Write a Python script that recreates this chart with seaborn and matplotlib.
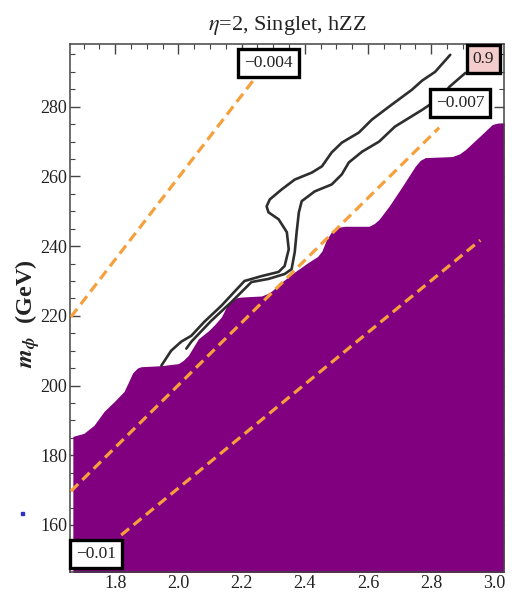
import numpy as np
import pandas as pd
import matplotlib
matplotlib.use("Agg")
import matplotlib.pyplot as plt
import seaborn as sns
from matplotlib.ticker import MultipleLocator
from matplotlib.patches import Rectangle

# ---------------- data ----------------
# upper edge of the purple excluded region
region_x = [1.666, 1.701, 1.733, 1.765, 1.797, 1.828, 1.842, 1.855, 1.870, 1.882,
            1.946, 2.000, 2.015, 2.031, 2.047, 2.063, 2.095, 2.115, 2.136, 2.152,
            2.168, 2.185, 2.200, 2.263, 2.280, 2.295, 2.327, 2.368, 2.412, 2.440,
            2.454, 2.468, 2.485, 2.505, 2.527, 2.603, 2.620, 2.635, 2.666, 2.708,
            2.749, 2.765, 2.781, 2.866, 2.890, 2.908, 2.952, 2.993, 3.010, 3.030]
region_y = [185.4, 186.3, 188.6, 192.6, 195.4, 198.3, 201.0, 203.6, 205.0, 205.4,
            205.7, 206.3, 207.2, 208.6, 211.0, 213.4, 215.7, 217.5, 219.7, 222.6,
            224.3, 225.2, 225.4, 225.7, 226.3, 227.1, 229.7, 232.6, 235.4, 237.0,
            238.6, 241.8, 244.2, 245.4, 245.7, 245.7, 246.5, 247.7, 251.4, 257.1,
            262.9, 264.6, 265.4, 265.7, 266.5, 267.7, 271.4, 274.9, 275.3, 275.4]

# dashed orange contours
c004_x = [1.660, 2.238]
c004_y = [219.7, 287.7]
c007_x = [1.660, 2.825]
c007_y = [169.7, 274.0]
c010_x = [1.819, 2.955]
c010_y = [157.1, 241.7]

# black 0.9 contour (two branches)
outer_x = [1.946, 1.977, 2.009, 2.041, 2.082, 2.136, 2.177, 2.209, 2.263, 2.317,
           2.336, 2.349, 2.343, 2.317, 2.285, 2.279, 2.289, 2.327, 2.368, 2.422,
           2.454, 2.485, 2.517, 2.571, 2.612, 2.666, 2.739, 2.771, 2.812, 2.860]
outer_y = [205.7, 210.0, 212.6, 214.3, 218.3, 222.9, 226.9, 230.0, 231.4, 232.6,
           234.3, 239.1, 244.0, 247.7, 249.7, 251.4, 253.4, 256.3, 259.1, 261.1,
           262.9, 266.9, 269.7, 272.6, 276.3, 280.0, 284.9, 287.5, 290.0, 294.9]
inner_x = [2.025, 2.041, 2.104, 2.168, 2.209, 2.231, 2.285, 2.336, 2.358, 2.368,
           2.374, 2.381, 2.390, 2.431, 2.485, 2.517, 2.539, 2.581, 2.635, 2.685,
           2.771, 2.835, 2.857, 2.908]
inner_y = [210.6, 212.6, 218.6, 224.0, 227.7, 229.7, 230.6, 232.0, 233.4, 238.3,
           244.0, 249.7, 252.9, 255.7, 257.7, 260.6, 264.0, 267.1, 270.0, 274.3,
           279.1, 283.0, 285.7, 289.7]

# contour labels
label_text = ["\u22120.004", "\u22120.007", "\u22120.01", "0.9"]
label_x = [2.285, 2.892, 1.739, 2.965]
label_y = [292.6, 281.1, 151.7, 293.7]
label_face = ["white", "white", "white", "#f4cccc"]

x_ticks = [1.8, 2.0, 2.2, 2.4, 2.6, 2.8, 3.0]
y_ticks = [160, 180, 200, 220, 240, 260, 280]

# ---------------- style ----------------
sns.set_theme(style="ticks")
plt.rcParams["font.family"] = ["Liberation Serif", "DejaVu Serif"]
plt.rcParams["mathtext.fontset"] = "stix"

fig = plt.figure(figsize=(5.12, 5.96), dpi=100)
ax = fig.add_axes([70 / 512, 24 / 596, 434 / 512, 528 / 596])

xlim = (1.657, 3.03)
ylim = (146.5, 298.0)

# purple region
ax.fill_between(region_x, region_y, ylim[0] - 5, color="#800080", lw=0, zorder=1)

orange = "#f5a03c"
for xs, ys in [(c004_x, c004_y), (c007_x, c007_y), (c010_x, c010_y)]:
    df = pd.DataFrame({"x": xs, "y": ys})
    sns.lineplot(data=df, x="x", y="y", ax=ax, sort=False, estimator=None,
                 color=orange, lw=2.3, zorder=3)
for line in ax.lines:
    line.set_dashes([3.2, 1.8])

for xs, ys in [(outer_x, outer_y), (inner_x, inner_y)]:
    df = pd.DataFrame({"x": xs, "y": ys})
    sns.lineplot(data=df, x="x", y="y", ax=ax, sort=False, estimator=None,
                 color="#2e2e2e", lw=1.9, zorder=4)

for t, lx, ly, fc in zip(label_text, label_x, label_y, label_face):
    ax.text(lx, ly, t, ha="center", va="center", fontsize=12.5, color="#222222",
            zorder=6,
            bbox=dict(boxstyle="square,pad=0.33", fc=fc, ec="black", lw=2.4))

ax.set_xlim(*xlim)
ax.set_ylim(*ylim)
ax.set_xticks(x_ticks)
ax.set_yticks(y_ticks)
ax.set_xticklabels([f"{v:.1f}" for v in x_ticks])
ax.set_yticklabels([str(v) for v in y_ticks])
ax.xaxis.set_minor_locator(MultipleLocator(0.05))
ax.yaxis.set_minor_locator(MultipleLocator(5))
ax.tick_params(which="both", direction="in", top=True, right=True,
               color="#444444", labelsize=13, labelcolor="#222222")
ax.tick_params(which="major", length=7, width=1.0)
ax.tick_params(which="minor", length=3.5, width=0.8)
ax.tick_params(axis="x", pad=2)
ax.tick_params(axis="y", pad=2)
for s in ax.spines.values():
    s.set_visible(True)
    s.set_color("#444444")
    s.set_linewidth(1.1)

ax.set_xlabel("")
ax.set_ylabel(r"$\mathbfit{m}_{\mathbfit{\phi}}$  (GeV)", fontsize=17.5,
              fontweight="bold", color="#222222")
ax.yaxis.set_label_coords(-0.064, 0.49)
ax.set_title(r"$\eta$=2, Singlet, hZZ", fontsize=16, color="#222222", pad=10)

fig.patches.append(Rectangle((21 / 512, 1 - 515 / 596), 3 / 512, 3 / 596,
                             transform=fig.transFigure, color="#3030c0"))

fig.savefig("out.png", dpi=100)
